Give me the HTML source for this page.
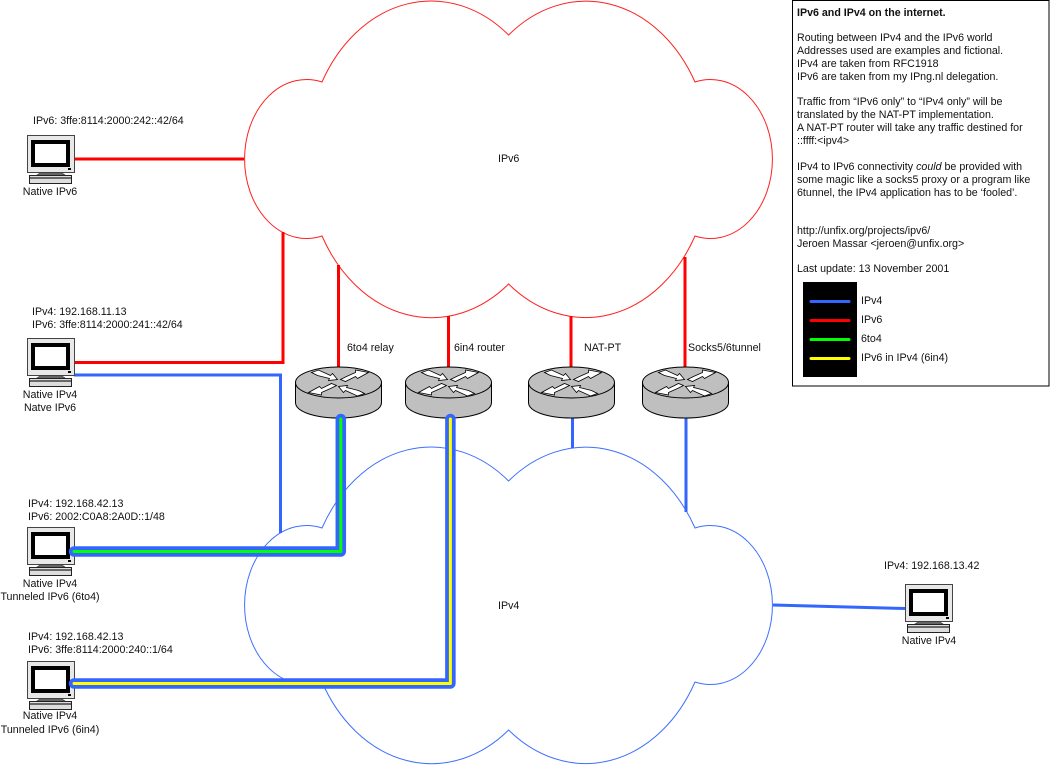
<!DOCTYPE html>
<html><head><meta charset="utf-8"><style>
html,body{margin:0;padding:0;background:#fff;width:1050px;height:765px;overflow:hidden}
svg{display:block}
text{font-family:"Liberation Sans",Arial,sans-serif;font-size:10.67px;fill:#111}
.m{text-anchor:middle}
</style></head><body>
<svg width="1050" height="765" viewBox="0 0 1050 765" xmlns="http://www.w3.org/2000/svg">
<defs>
<path id="cloud" d="M322,82 A125,158 0 0 1 508.600,35 A125,158 0 0 1 695,82 A62,79.500 0 1 1 695,236 A125,158 0 0 1 508.600,284 A125,158 0 0 1 322,236 A62,79.500 0 1 1 322,82Z"/>
<g id="router">
<path d="M-43,0 V20 C-43,29 -24,35.500 0,35.500 C24,35.500 43,29 43,20 V0Z" fill="#bfbfbf" stroke="#000" stroke-width="1"/>
<ellipse cx="0" cy="0" rx="43" ry="15.500" fill="#bfbfbf" stroke="#000" stroke-width="1"/>
<g fill="#fff" stroke="#000" stroke-width=".8">
<polygon points="-27,-10 -20,-12.500 -8,-7 -6,-9 -1,-3 -10,-2 -9,-4 -21,-7"/>
<polygon points="27,10 20,12.500 8,7 6,9 1,3 10,2 9,4 21,7" transform="translate(-1,1)"/>
<polygon points="2,-3 7,-1 17,-6 19,-4 30,-10 17,-12.500 17,-10 8,-6"/>
<polygon points="-2,3 -7,1 -17,6 -19,4 -30,10 -17,12.500 -17,10 -8,6"/>
</g>
</g>
<g id="pc">
<rect x="0.500" y="0.500" width="47" height="37" fill="#e8e8e8" stroke="#444" stroke-width="1"/>
<rect x="4" y="5" width="39" height="27" fill="#000"/>
<rect x="8" y="9" width="31" height="19" fill="#fff"/>
<rect x="41" y="33" width="3" height="2" fill="#000"/>
<path d="M13,38 H35 L38,40 H10Z" fill="#777" stroke="#333" stroke-width=".6"/>
<rect x="2.500" y="40.500" width="42" height="8" fill="#ddd" stroke="#222" stroke-width="1"/>
<line x1="3" y1="43" x2="44" y2="43" stroke="#222" stroke-width="1.200"/>
</g>
</defs>

<use href="#cloud" fill="#fff" stroke="#ff2020" stroke-width="1"/>
<use href="#cloud" transform="translate(0,446)" fill="#fff" stroke="#3f70ff" stroke-width="1"/>
<text x="498" y="162">IPv6</text>
<text x="498" y="609">IPv4</text>

<g fill="none" stroke="#ff0000" stroke-width="3">
<path d="M74,159 H244"/>
<path d="M74,362.500 H283 V232"/>
<path d="M338.500,265 V372"/>
<path d="M448.500,316 V372"/>
<path d="M571,316 V372"/>
<path d="M685,257 V372"/>
</g>
<g fill="none" stroke="#3366ff" stroke-width="3">
<path d="M74,375 H280.500 V533"/>
<path d="M572.500,418 V448"/>
<path d="M686,418 V512"/>
<path d="M773,605 L905,608.500"/>
</g>

<use href="#router" x="338.500" y="382.500"/>
<use href="#router" x="448.500" y="382.500"/>
<use href="#router" x="571.500" y="382.500"/>
<use href="#router" x="685.500" y="382.500"/>

<use href="#pc" x="27" y="135"/>
<use href="#pc" x="27" y="338"/>
<use href="#pc" x="27" y="527"/>
<use href="#pc" x="27" y="661"/>
<use href="#pc" x="905" y="584"/>

<g fill="none" stroke-linejoin="round" stroke-linecap="round">
<path d="M74,551.500 H340.800 V419" stroke="#3366ff" stroke-width="10.500"/>
<path d="M74,551.500 H340.800 V419" stroke="#00ff00" stroke-width="3"/>
<path d="M74,683.500 H450.400 V419" stroke="#3366ff" stroke-width="10.500"/>
<path d="M74,683.500 H450.400 V419" stroke="#ffff00" stroke-width="3"/>
</g>

<text x="33" y="124">IPv6: 3ffe:8114:2000:242::42/64</text>
<text class="m" x="50" y="195">Native IPv6</text>
<text x="32" y="315">IPv4: 192.168.11.13</text>
<text x="32" y="328">IPv6: 3ffe:8114:2000:241::42/64</text>
<text class="m" x="50" y="398">Native IPv4</text>
<text class="m" x="50" y="411">Natve IPv6</text>
<text x="28" y="507">IPv4: 192.168.42.13</text>
<text x="28" y="520">IPv6: 2002:C0A8:2A0D::1/48</text>
<text class="m" x="50" y="587">Native IPv4</text>
<text class="m" x="50" y="600">Tunneled IPv6 (6to4)</text>
<text x="28" y="640">IPv4: 192.168.42.13</text>
<text x="28" y="653">IPv6: 3ffe:8114:2000:240::1/64</text>
<text class="m" x="50" y="719">Native IPv4</text>
<text class="m" x="50" y="733">Tunneled IPv6 (6in4)</text>
<text x="884" y="569">IPv4: 192.168.13.42</text>
<text class="m" x="929" y="644">Native IPv4</text>

<text x="347" y="351">6to4 relay</text>
<text x="454" y="351">6in4 router</text>
<text x="584" y="351">NAT-PT</text>
<text x="688" y="351">Socks5/6tunnel</text>

<rect x="792.500" y="0.500" width="256.500" height="385.500" fill="#fff" stroke="#000" stroke-width="1"/>
<text x="797" y="16" style="font-weight:bold">IPv6 and IPv4 on the internet.</text>
<text x="797" y="41">Routing between IPv4 and the IPv6 world</text>
<text x="797" y="54">Addresses used are examples and fictional.</text>
<text x="797" y="67">IPv4 are taken from RFC1918</text>
<text x="797" y="80">IPv6 are taken from my IPng.nl delegation.</text>
<text x="797" y="105">Traffic from “IPv6 only” to “IPv4 only” will be</text>
<text x="797" y="118">translated by the NAT-PT implementation.</text>
<text x="797" y="131">A NAT-PT router will take any traffic destined for</text>
<text x="797" y="144">::ffff:&lt;ipv4&gt;</text>
<text x="797" y="170">IPv4 to IPv6 connectivity <tspan font-style="italic">could</tspan> be provided with</text>
<text x="797" y="183">some magic like a socks5 proxy or a program like</text>
<text x="797" y="196">6tunnel, the IPv4 application has to be ‘fooled’.</text>
<text x="797" y="234">http://unfix.org/projects/ipv6/</text>
<text x="797" y="247">Jeroen Massar &lt;jeroen@unfix.org&gt;</text>
<text x="797" y="272">Last update: 13 November 2001</text>

<rect x="803" y="282" width="54" height="95" fill="#000"/>
<g stroke-width="3" stroke-linecap="round">
<line x1="811" y1="301.500" x2="849" y2="301.500" stroke="#3366ff"/>
<line x1="811" y1="320.500" x2="849" y2="320.500" stroke="#ff0000"/>
<line x1="811" y1="339.500" x2="849" y2="339.500" stroke="#00ff00"/>
<line x1="811" y1="358.500" x2="849" y2="358.500" stroke="#ffff00"/>
</g>
<text x="861" y="304">IPv4</text>
<text x="861" y="323">IPv6</text>
<text x="861" y="342">6to4</text>
<text x="861" y="361">IPv6 in IPv4 (6in4)</text>
</svg>
</body></html>
